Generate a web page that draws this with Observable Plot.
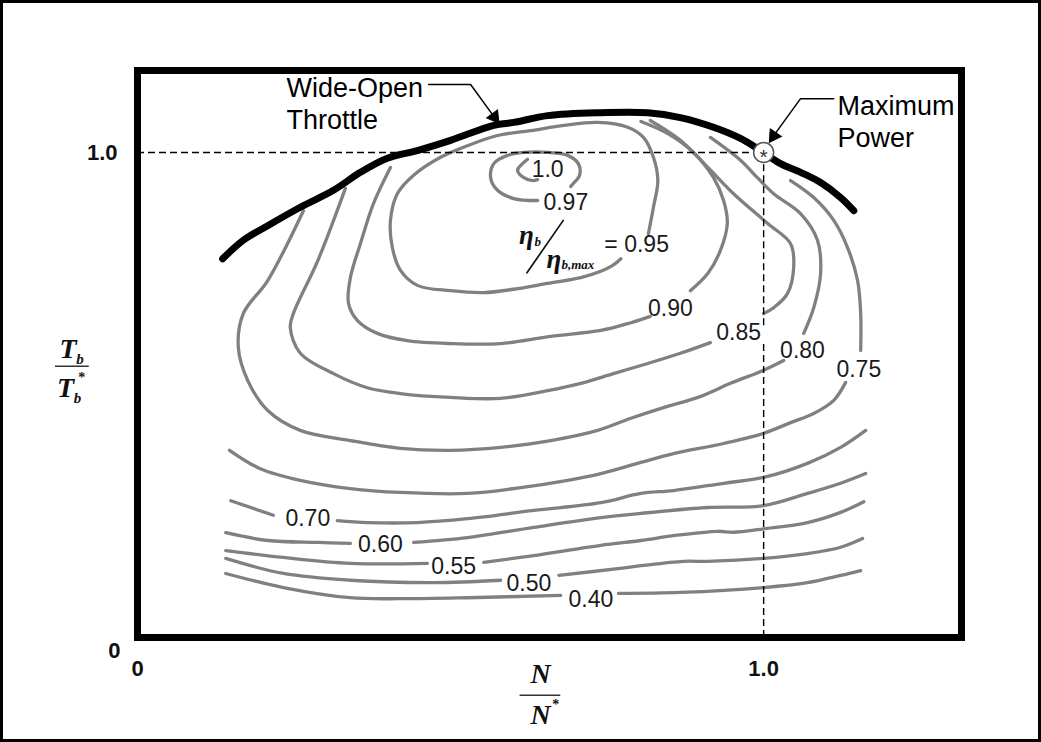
<!DOCTYPE html>
<html><head><meta charset="utf-8">
<script src="https://cdn.jsdelivr.net/npm/d3@7"></script>
<script src="https://cdn.jsdelivr.net/npm/@observablehq/plot@0.6"></script>
<style>
html,body{margin:0;padding:0;background:#fff;}
#chart svg{display:block;outline:3px solid #000;outline-offset:-3px;}
</style></head><body><div id="chart"></div>
<script>
// ---------------- data (N/N*, Tb/Tb*) ----------------
const xTicks = [0, 1.0];
const xTickLabels = ["0", "1.0"];
const yTicks = [0, 1.0];
const yTickLabels = ["0", "1.0"];

// Wide-open throttle curve
const wotCurve = [[0.136,0.781],[0.169,0.819],[0.208,0.849],[0.260,0.887],[0.313,0.922],[0.356,0.959],[0.399,0.988],[0.447,1.004],[0.500,1.025],[0.569,1.056],[0.601,1.062],[0.655,1.076],[0.735,1.082],[0.815,1.082],[0.867,1.072],[0.920,1.052],[0.963,1.029],[0.995,1.004],[1.027,0.977],[1.059,0.959],[1.091,0.938],[1.123,0.907],[1.144,0.880]];

// efficiency contours (segments split where labels sit)
const c100 = [[0.623,0.986],[0.609,0.969],[0.607,0.963],[0.617,0.948],[0.631,0.942],[0.639,0.944]];
const c097 = [[0.639,0.901],[0.601,0.905],[0.575,0.922],[0.564,0.948],[0.569,0.977],[0.591,0.994],[0.617,1.000],[0.655,1.000],[0.687,0.994],[0.704,0.977],[0.706,0.953],[0.696,0.936],[0.692,0.930]];
const c095 = [[0.816,0.833],[0.824,0.887],[0.831,0.942],[0.824,0.990],[0.808,1.031],[0.783,1.052],[0.735,1.062],[0.681,1.056],[0.628,1.045],[0.575,1.035],[0.527,1.014],[0.484,0.990],[0.441,0.953],[0.415,0.915],[0.404,0.860],[0.407,0.804],[0.420,0.757],[0.447,0.726],[0.500,0.715],[0.553,0.711],[0.601,0.718],[0.655,0.730],[0.708,0.742],[0.740,0.755],[0.759,0.767],[0.772,0.781]];
const c090a = [[0.404,0.969],[0.377,0.895],[0.356,0.812],[0.340,0.742],[0.337,0.689],[0.351,0.654],[0.383,0.627],[0.431,0.612],[0.500,0.606],[0.580,0.606],[0.660,0.621],[0.740,0.633],[0.788,0.649],[0.819,0.662]];
const c090b = [[0.883,0.715],[0.911,0.751],[0.931,0.798],[0.942,0.854],[0.936,0.901],[0.920,0.948],[0.888,1.000],[0.847,1.039],[0.804,1.064]];
const c085a = [[0.332,0.926],[0.288,0.777],[0.249,0.668],[0.244,0.639],[0.260,0.586],[0.313,0.544],[0.367,0.515],[0.420,0.503],[0.500,0.495],[0.580,0.493],[0.655,0.509],[0.708,0.524],[0.760,0.544],[0.815,0.565],[0.867,0.586],[0.915,0.608]];
const c085b = [[1.000,0.668],[1.016,0.680],[1.038,0.709],[1.048,0.763],[1.043,0.812],[1.006,0.854],[0.952,0.915],[0.911,0.969],[0.867,1.025],[0.819,1.066]];
const c080a = [[0.265,0.880],[0.208,0.736],[0.169,0.668],[0.161,0.598],[0.176,0.530],[0.208,0.468],[0.260,0.427],[0.340,0.406],[0.420,0.390],[0.500,0.386],[0.580,0.392],[0.660,0.406],[0.735,0.427],[0.788,0.452],[0.840,0.474],[0.895,0.495],[0.947,0.524],[1.000,0.551],[1.032,0.571]];
const c080b = [[1.064,0.627],[1.080,0.680],[1.091,0.751],[1.086,0.819],[1.059,0.874],[1.016,0.915],[0.990,0.948],[0.963,0.984],[0.915,1.031]];
const c075a = [[1.043,0.942],[1.080,0.907],[1.112,0.860],[1.134,0.804],[1.150,0.736],[1.155,0.668],[1.155,0.592]];
const c075b = [[1.131,0.526],[1.112,0.489],[1.080,0.462],[1.043,0.443],[1.000,0.421],[0.936,0.400],[0.856,0.379],[0.804,0.361],[0.740,0.338],[0.687,0.324],[0.612,0.309],[0.527,0.297],[0.420,0.299],[0.340,0.307],[0.260,0.324],[0.196,0.348],[0.147,0.386]];
const c070a = [[0.149,0.282],[0.217,0.252]];
const c070b = [[0.319,0.241],[0.367,0.237],[0.447,0.237],[0.527,0.245],[0.633,0.262],[0.740,0.278],[0.804,0.297],[0.856,0.303],[0.936,0.318],[1.000,0.330],[1.070,0.359],[1.123,0.392],[1.163,0.427]];
const c060a = [[0.141,0.216],[0.208,0.200],[0.288,0.196],[0.340,0.194]];
const c060b = [[0.441,0.196],[0.527,0.206],[0.633,0.227],[0.740,0.247],[0.804,0.256],[0.911,0.268],[1.000,0.272],[1.070,0.297],[1.123,0.318],[1.163,0.338]];
const c055a = [[0.141,0.179],[0.233,0.165],[0.340,0.153],[0.463,0.153]];
const c055b = [[0.553,0.155],[0.633,0.169],[0.740,0.190],[0.804,0.200],[0.856,0.210],[0.927,0.219],[0.952,0.217],[1.000,0.224],[1.070,0.237],[1.123,0.258],[1.160,0.280]];
const c050a = [[0.141,0.163],[0.233,0.132],[0.340,0.118],[0.473,0.113],[0.580,0.118]];
const c050b = [[0.673,0.128],[0.767,0.142],[0.804,0.148],[0.872,0.157],[0.911,0.157],[1.000,0.163],[1.070,0.173],[1.123,0.186],[1.158,0.204]];
const c040a = [[0.141,0.132],[0.233,0.103],[0.340,0.082],[0.420,0.080],[0.527,0.082],[0.676,0.087]];
const c040b = [[0.768,0.091],[0.867,0.093],[1.000,0.103],[1.070,0.113],[1.123,0.128],[1.155,0.138]];

const contourSegments = [c100,c097,c095,c090a,c090b,c085a,c085b,c080a,c080b,c075a,c075b,c070a,c070b,c060a,c060b,c055a,c055b,c050a,c050b,c040a,c040b];

// contour labels
const labelText = ["1.0","0.97","0.95","0.90","0.85","0.80","0.75","0.70","0.60","0.55","0.50","0.40"];
const labelN    = [0.655,0.684,0.813,0.851,0.960,1.062,1.152,0.272,0.388,0.505,0.625,0.724];
const labelT    = [0.965,0.897,0.810,0.678,0.629,0.592,0.553,0.245,0.192,0.146,0.111,0.078];

// maximum power point
const maxPower = {N: 1.0, T: 1.0};
const hDash = [{T: 1.0, N1: 0, N2: 0.984}];
const vDash = [{N: 1.0, T1: 0, T2: 0.612}, {N: 1.0, T1: 0.643, T2: 0.979}];

// annotations
const annoText = ["Wide-Open","Throttle","Maximum","Power"];
const annoN = [0.238,0.238,1.118,1.118];
const annoT = [1.133,1.067,1.096,1.030];
const wotLeader = [[0.465,1.140],[0.532,1.140],[0.567,1.078]];
const mpLeader = [[1.112,1.111],[1.059,1.111],[1.019,1.040]];
const arrowHeads = [{N:0.570,T:1.073,rot:144},{N:1.016,T:1.034,rot:214}];

// formula eta_b / eta_b,max = 0.95
const etaText = ["η","η"]; const etaN = [0.621,0.665]; const etaT = [0.829,0.779];
const etaSub = ["b","b,max"]; const etaSubN = [0.634,0.677]; const etaSubT = [0.815,0.769];
const etaSlash = [[0.680,0.860],[0.622,0.752]];
const eqSign = {text:"=", N:0.756, T:0.810};

// axis titles
const yTitleBig = [{t:"T",N:-0.110,T:0.594},{t:"T",N:-0.114,T:0.514}];
const yTitleSub = [{t:"b",N:-0.098,T:0.574},{t:"b",N:-0.102,T:0.494}];
const yTitleStar = [{t:"*",N:-0.089,T:0.537}];
const yTitleBar = [{N1:-0.131,N2:-0.077,T:0.559}];
const xTitleBig = [{t:"N",N:0.644,T:-0.076},{t:"N",N:0.644,T:-0.160}];
const xTitleStar = [{t:"*",N:0.668,T:-0.138}];
const xTitleBar = [{N1:0.611,N2:0.676,T:-0.119}];

// ---------------- build ----------------
const contourRows = contourSegments.flatMap((seg, k) => seg.map(([N, T]) => ({id: k, N, T})));
const wotRows = wotCurve.map(([N, T]) => ({N, T}));
const labels = labelText.map((t, i) => ({t, N: labelN[i], T: labelT[i]}));
const annos = annoText.map((t, i) => ({t, N: annoN[i], T: annoT[i]}));
const leaders = [wotLeader, mpLeader].flatMap((l, k) => l.map(([N, T]) => ({id: k, N, T})));
const etas = etaText.map((t, i) => ({t, N: etaN[i], T: etaT[i]}));
const etaSubs = etaSub.map((t, i) => ({t, N: etaSubN[i], T: etaSubT[i]}));
const slashRows = etaSlash.map(([N, T]) => ({N, T}));
const xTickRows = xTicks.map((v, i) => ({v, t: xTickLabels[i]}));
const yTickRows = yTicks.map((v, i) => ({v, t: yTickLabels[i]}));

const sans = "'Liberation Sans', Arial, Helvetica, sans-serif";
const serif = "'Liberation Serif', 'Times New Roman', serif";
const tickStyle = {fontSize: 22, fontWeight: "bold", fill: "#111", fontFamily: sans};

const plot = Plot.plot({
  width: 1041, height: 742,
  marginLeft: 137, marginRight: 80, marginTop: 70, marginBottom: 105,
  x: {domain: [0, 1.316], axis: null},
  y: {domain: [0, 1.169], axis: null},
  style: {background: "#fff", fontFamily: sans, overflow: "visible"},
  marks: [
    Plot.line(contourRows, {x: "N", y: "T", z: "id", stroke: "#808080", strokeWidth: 3.3, curve: "catmull-rom", strokeLinecap: "round", strokeLinejoin: "round"}),
    Plot.ruleY(hDash, {y: "T", x1: "N1", x2: "N2", stroke: "#000", strokeWidth: 1.4, strokeDasharray: "7,4"}),
    Plot.ruleX(vDash, {x: "N", y1: "T1", y2: "T2", stroke: "#000", strokeWidth: 1.4, strokeDasharray: "7,4"}),
    Plot.line(wotRows, {x: "N", y: "T", stroke: "#000", strokeWidth: 7, curve: "catmull-rom", strokeLinecap: "round"}),
    Plot.dot([maxPower], {x: "N", y: "T", r: 10, fill: "#fff", stroke: "#555", strokeWidth: 1.5}),
    Plot.text([maxPower], {x: "N", y: "T", text: () => "*", fontSize: 21, fill: "#333", dy: 5}),
    Plot.line(leaders, {x: "N", y: "T", z: "id", stroke: "#000", strokeWidth: 1.5}),
    Plot.dot(arrowHeads, {x: "N", y: "T", symbol: "triangle", r: 5, fill: "#000", stroke: "#000", strokeWidth: 1, rotate: "rot"}),
    Plot.text(annos, {x: "N", y: "T", text: "t", textAnchor: "start", fontSize: 27, fill: "#000", fontFamily: sans}),
    Plot.text(labels, {x: "N", y: "T", text: "t", fontSize: 23, fill: "#1a1a1a", fontFamily: sans, ariaLabel: "contour labels"}),
    Plot.text([eqSign], {x: "N", y: "T", text: "text", fontSize: 23, fill: "#1a1a1a", fontFamily: sans}),
    Plot.text(etas, {x: "N", y: "T", text: "t", fontSize: 27, fontWeight: "bold", fontStyle: "italic", fontFamily: serif, fill: "#111"}),
    Plot.text(etaSubs, {x: "N", y: "T", text: "t", textAnchor: "start", fontSize: 13, fontWeight: "bold", fontStyle: "italic", fontFamily: serif, fill: "#111"}),
    Plot.line(slashRows, {x: "N", y: "T", stroke: "#111", strokeWidth: 1.7}),
    // axis titles
    Plot.text(yTitleBig, {x: "N", y: "T", text: "t", fontSize: 28, fontWeight: "bold", fontStyle: "italic", fontFamily: serif, fill: "#111", textAnchor: "end", dx: 8}),
    Plot.text(yTitleSub, {x: "N", y: "T", text: "t", fontSize: 15, fontWeight: "bold", fontStyle: "italic", fontFamily: serif, fill: "#111", textAnchor: "start"}),
    Plot.text(yTitleStar, {x: "N", y: "T", text: "t", fontSize: 14, fontWeight: "bold", fontFamily: serif, fill: "#111"}),
    Plot.ruleY(yTitleBar, {y: "T", x1: "N1", x2: "N2", stroke: "#333", strokeWidth: 1.5}),
    Plot.text(xTitleBig, {x: "N", y: "T", text: "t", fontSize: 28, fontWeight: "bold", fontStyle: "italic", fontFamily: serif, fill: "#111"}),
    Plot.text(xTitleStar, {x: "N", y: "T", text: "t", fontSize: 14, fontWeight: "bold", fontFamily: serif, fill: "#111"}),
    Plot.ruleY(xTitleBar, {y: "T", x1: "N1", x2: "N2", stroke: "#333", strokeWidth: 1.5}),
    // tick labels (placed through the x / y scales)
    Plot.text(xTickRows, {x: "v", y: () => 0, text: "t", dy: 31, ...tickStyle}),
    Plot.text(yTickRows.filter(d => d.v !== 0), {x: () => 0, y: "v", text: "t", dx: -20, textAnchor: "end", ...tickStyle}),
    Plot.text(yTickRows.filter(d => d.v === 0), {x: () => 0, y: "v", text: "t", dx: -17, dy: 13, textAnchor: "end", ...tickStyle}),
    Plot.frame({stroke: "#000", strokeWidth: 7})
  ]
});
document.getElementById("chart").append(plot);

// narrow the contour digit labels a little (original uses a condensed face)
plot.querySelectorAll('g[aria-label="contour labels"] text').forEach(t => {
  const tr = t.getAttribute("transform");
  if (tr) t.setAttribute("transform", tr + " scale(0.82,1)");
});
</script>
</body></html>
